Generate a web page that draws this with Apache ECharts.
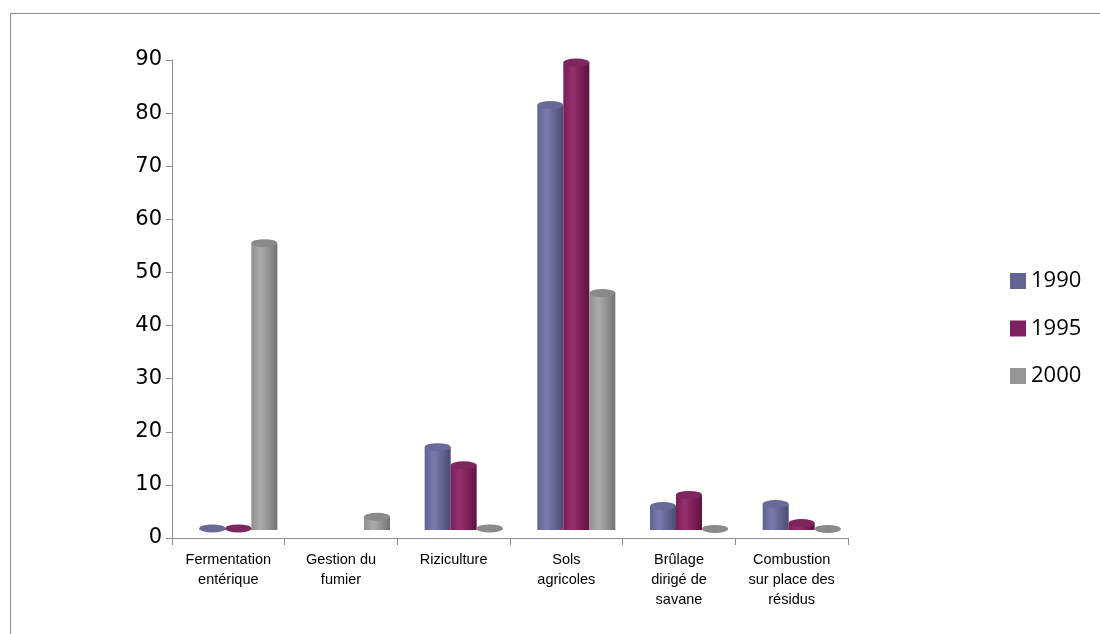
<!DOCTYPE html>
<html>
<head>
<meta charset="utf-8">
<script src="https://cdn.jsdelivr.net/npm/echarts@6/dist/echarts.min.js"></script>
<style>
  html, body { margin: 0; padding: 0; background: #fff; }
  #chart { width: 1100px; height: 634px; }
</style>
</head>
<body>
<div id="chart"></div>
<script>
// categories and series
const categories = ['Fermentation\nentérique', 'Gestion du\nfumier', 'Riziculture', 'Sols\nagricoles', 'Brûlage\ndirigé de\nsavane', 'Combustion\nsur place des\nrésidus'];
const v1990 = [0.3, 0, 15.6, 80, 4.5, 4.9];
const v1995 = [0.3, 0, 12.2, 88, 6.6, 1.3];
const v2000 = [54, 2.5, 0.3, 44.6, 0.2, 0.2];
const seriesNames = ['1990', '1995', '2000'];

const chart = echarts.init(document.getElementById('chart'));

// cylinder-like shading
const cyl = (light, mid, dark) => new echarts.graphic.LinearGradient(0, 0, 1, 0, [
    { offset: 0, color: mid },
    { offset: 0.35, color: light },
    { offset: 0.7, color: mid },
    { offset: 1, color: dark }
]);

const colors = [
    cyl('#7a7aae', '#62628f', '#4a4a72'),
    cyl('#95306f', '#7b1d57', '#5e1242'),
    cyl('#ababab', '#8f8f8f', '#707070')
];
const capColors = ['#6a6a9a', '#7f2560', '#8a8a8a'];
const legendColors = ['#636394', '#7f1f5f', '#969696'];
const allValues = [v1990, v1995, v2000];

const axisGrey = '#8c8c8c';

// bars sit on the second (hidden) grid, shifted like the 3D floor
const makeSeries = (name, data, i) => ({
    name: name,
    type: 'bar',
    xAxisIndex: 1,
    yAxisIndex: 1,
    data: data,
    barWidth: 26,
    barGap: '0%',
    itemStyle: { color: colors[i] }
});

const makeCap = (data, i) => ({
    name: 'cap' + seriesNames[i],
    type: 'pictorialBar',
    xAxisIndex: 1,
    yAxisIndex: 1,
    data: data.map(v => (v > 0 ? v : '-')),
    symbol: 'circle',
    symbolSize: [26, 8],
    symbolPosition: 'end',
    symbolOffset: [0, '-50%'],
    barWidth: 26,
    barGap: '0%',
    z: 3,
    itemStyle: { color: capColors[i] }
});

chart.setOption({
    animation: false,
    color: legendColors,
    graphic: [{
        type: 'rect',
        shape: { x: 10.5, y: 13.5, width: 1200, height: 700 },
        style: { fill: 'none', stroke: axisGrey, lineWidth: 1 },
        silent: true
    }],
    legend: {
        orient: 'vertical',
        left: 1005,
        top: 265,
        itemWidth: 16,
        itemHeight: 16,
        itemGap: 25.5,
        icon: 'rect',
        textStyle: { fontFamily: 'Open Sans', fontSize: 22, color: '#000' },
        data: seriesNames.map((n, i) => ({ name: n, itemStyle: { color: legendColors[i] } }))
    },
    grid: [
        { left: 172, right: 252, top: 60, bottom: 96, containLabel: false },
        { left: 182, right: 242, top: 52, bottom: 104, containLabel: false }
    ],
    xAxis: [{
        type: 'category',
        gridIndex: 0,
        data: categories,
        axisLine: { lineStyle: { color: axisGrey } },
        axisTick: { show: true, length: 7, lineStyle: { color: axisGrey } },
        axisLabel: {
            interval: 0,
            color: '#000',
            fontFamily: 'Liberation Sans',
            fontSize: 14.5,
            lineHeight: 20,
            margin: 12
        }
    }, {
        type: 'category',
        gridIndex: 1,
        data: categories,
        show: false
    }],
    yAxis: [{
        type: 'value',
        gridIndex: 0,
        min: 0,
        max: 90,
        interval: 10,
        axisLine: { show: true, lineStyle: { color: axisGrey } },
        axisTick: { show: true, length: 6, lineStyle: { color: axisGrey } },
        splitLine: { show: false },
        axisLabel: {
            color: '#000',
            fontFamily: 'DejaVu Sans',
            fontSize: 21,
            margin: 10
        }
    }, {
        type: 'value',
        gridIndex: 1,
        min: 0,
        max: 90,
        interval: 10,
        show: false,
        splitLine: { show: false }
    }],
    series: [
        makeSeries('1990', v1990, 0),
        makeSeries('1995', v1995, 1),
        makeSeries('2000', v2000, 2)
    ].concat(allValues.map((d, i) => makeCap(d, i)))
});
</script>
</body>
</html>
